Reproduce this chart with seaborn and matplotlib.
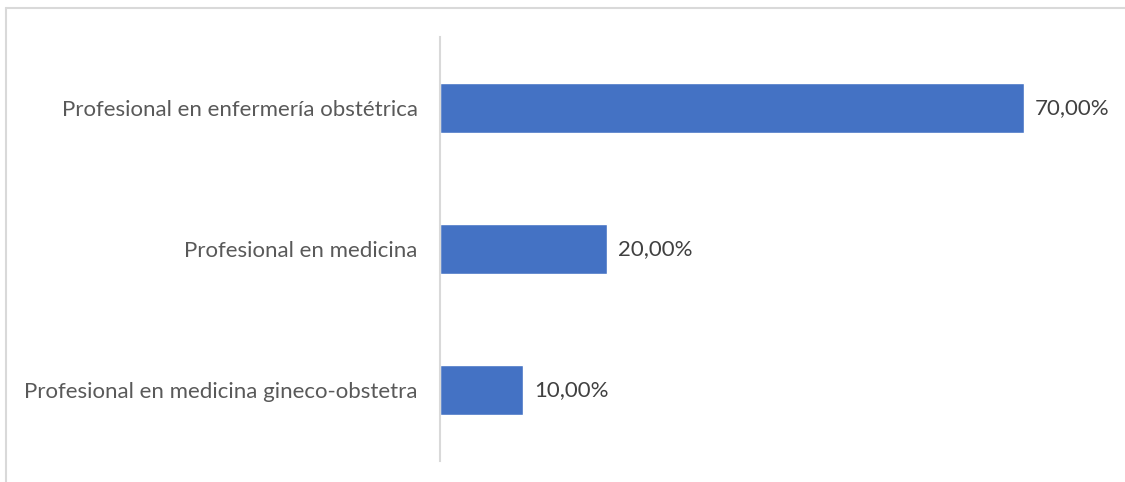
import matplotlib
matplotlib.use("Agg")
import pandas as pd
import seaborn as sns
import matplotlib.pyplot as plt
from matplotlib.lines import Line2D

categorias = ["Profesional en enfermería obstétrica",
              "Profesional en medicina",
              "Profesional en medicina gineco-obstetra"]
porcentajes = [70.0, 20.0, 10.0]

df = pd.DataFrame({"categoria": categorias, "porcentaje": porcentajes})

sns.set_style("white")
plt.rcParams["font.family"] = ["Lato", "DejaVu Sans"]

fig = plt.figure(figsize=(11.25, 4.82), dpi=100)
ax = fig.add_axes([440 / 1125, 21 / 482, 667 / 1125, 424 / 482])

sns.barplot(data=df, y="categoria", x="porcentaje", orient="h",
            color="#4472C4", saturation=1, width=0.354, ax=ax)

ax.set_xlim(0, 80)
ax.set_ylim(2.5, -0.5)
ax.set_xlabel("")
ax.set_ylabel("")
ax.set_xticks([])
ax.tick_params(axis="y", length=0, pad=16, labelsize=16, labelcolor="#595959")

for s in ["top", "right", "bottom"]:
    ax.spines[s].set_visible(False)
ax.spines["left"].set_color("#d9d9d9")
ax.spines["left"].set_linewidth(1.5)

etiquetas = [f"{v:.2f}%".replace(".", ",") for v in porcentajes]
ax.bar_label(ax.containers[0], labels=etiquetas, padding=8,
             fontsize=16, color="#404040")

# marco del gráfico (recortado a la derecha y abajo)
ytop = 1 - 7.5 / 482
xleft = 6 / 1125
fig.add_artist(Line2D([xleft, 1.1], [ytop, ytop], transform=fig.transFigure,
                      color="#d9d9d9", linewidth=1.5))
fig.add_artist(Line2D([xleft, xleft], [-0.1, ytop], transform=fig.transFigure,
                      color="#d9d9d9", linewidth=1.5))

fig.savefig("out.png", dpi=100)
